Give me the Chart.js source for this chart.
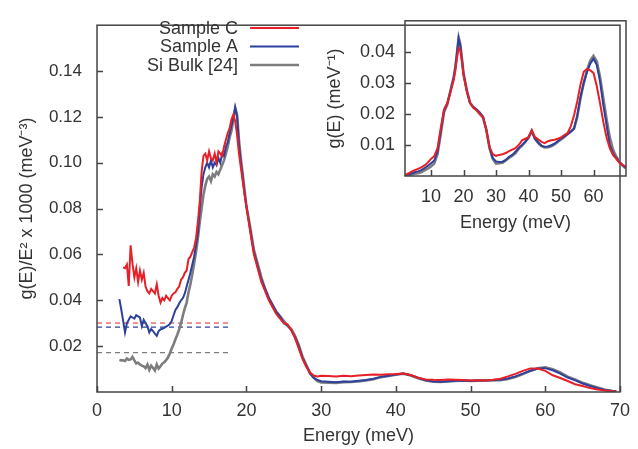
<!DOCTYPE html>
<html>
<head>
<meta charset="utf-8">
<script src="https://cdn.jsdelivr.net/npm/chart.js@4"></script>
<style>
  body { margin: 0; background: #fff; }
  #wrap { position: relative; width: 638px; height: 449px; }
  #mainChart { position: absolute; left: 0; top: 0; }
  #insetChart { position: absolute; left: 320px; top: 0; }
</style>
</head>
<body>
<div id="wrap">
  <canvas id="mainChart" width="638" height="449"></canvas>
  <canvas id="insetChart" width="318" height="240"></canvas>
</div>
<script>
// main panel: g(E)/E^2 x 1000
const energy = [
  3, 3.25, 3.5, 3.75, 4, 4.25, 4.5, 4.75, 5, 5.25, 5.5, 5.75, 6, 6.25, 6.5, 6.75, 7, 7.25, 7.5, 7.75,
  8, 8.25, 8.5, 8.75, 9, 9.25, 9.5, 9.75, 10, 10.25, 10.5, 10.75, 11, 11.25, 11.5, 11.75, 12, 12.25, 12.5, 12.75,
  13, 13.25, 13.5, 13.75, 14, 14.25, 14.5, 14.75, 15, 15.25, 15.5, 15.75, 16, 16.25, 16.5, 16.75, 17, 17.25, 17.5, 17.75,
  18, 18.25, 18.5, 18.75, 19, 19.25, 19.5, 19.75, 20,
  20.5, 21, 21.5, 22, 22.5, 23, 23.5, 24, 24.5, 25, 25.5, 26, 26.5, 27, 27.5, 28, 28.5, 29, 29.5, 30,
  31, 32, 33, 34, 35, 36, 37, 38, 39, 40, 41, 42, 43, 44, 45, 46, 47, 48, 49, 50,
  51, 52, 53, 54, 55, 56, 57, 58, 59, 60, 61, 62, 63, 64, 65, 66, 67, 68, 69, 69.5
];
const sampleC = [
  null, null, 0.0544, 0.054, 0.0556, 0.0463, 0.064, 0.056, 0.050, 0.054, 0.048, 0.053, 0.049, 0.052, 0.046, 0.044, 0.043, 0.045, 0.044, 0.043,
  0.047, 0.042, 0.039, 0.041, 0.040, 0.042, 0.041, 0.040, 0.042, 0.043, 0.0435, 0.045, 0.046, 0.049, 0.050, 0.052, 0.053, 0.058, 0.059, 0.061,
  0.063, 0.067, 0.074, 0.083, 0.096, 0.103, 0.104, 0.101, 0.105, 0.102, 0.101, 0.104, 0.100, 0.105, 0.104, 0.103, 0.107, 0.110, 0.113, 0.115,
  0.119, 0.121, 0.118, 0.112, 0.104, 0.098, 0.092, 0.086, 0.081,
  0.070, 0.060, 0.054, 0.048, 0.044, 0.040, 0.037, 0.034, 0.032, 0.030, 0.0295, 0.027, 0.0235, 0.019, 0.0145, 0.011, 0.0085, 0.0072, 0.0068, 0.0071,
  0.0070, 0.0068, 0.0071, 0.0069, 0.0072, 0.0074, 0.0076, 0.0075, 0.0077, 0.0078, 0.0081, 0.0074, 0.0062, 0.0055, 0.0053, 0.0052, 0.0054, 0.0053, 0.0052, 0.0050,
  0.0051, 0.0050, 0.0053, 0.0058, 0.0068, 0.0079, 0.0092, 0.0103, 0.0102, 0.0092, 0.0073, 0.0061, 0.0048, 0.0034, 0.0026, 0.0017, 0.0011, 0.0007, 0.0003, 0.0001
];
const sampleA = [
  0.0405, 0.036, 0.031, 0.026, 0.030, 0.0315, 0.033, 0.0325, 0.032, 0.0335, 0.033, 0.0325, 0.0287, 0.0315, 0.030, 0.0287, 0.026, 0.0275, 0.0266, 0.0255,
  0.0245, 0.0266, 0.0273, 0.0276, 0.028, 0.0285, 0.029, 0.0296, 0.031, 0.0335, 0.0358, 0.037, 0.0386, 0.040, 0.041, 0.043, 0.046, 0.049, 0.052, 0.0555,
  0.059, 0.064, 0.069, 0.080, 0.089, 0.095, 0.098, 0.100, 0.098, 0.101, 0.098, 0.100, 0.099, 0.102, 0.100, 0.104, 0.103, 0.107, 0.109, 0.113,
  0.116, 0.120, 0.124, 0.120, 0.108, 0.100, 0.094, 0.087, 0.081,
  0.071, 0.061, 0.055, 0.049, 0.045, 0.041, 0.038, 0.035, 0.033, 0.030, 0.029, 0.027, 0.024, 0.020, 0.015, 0.0115, 0.008, 0.0062, 0.0052, 0.0047,
  0.0045, 0.0043, 0.0046, 0.0045, 0.0049, 0.0052, 0.0058, 0.0066, 0.0071, 0.0076, 0.0081, 0.0073, 0.0061, 0.0051, 0.0046, 0.0045, 0.0047, 0.0049, 0.0050, 0.0049,
  0.0050, 0.0050, 0.0051, 0.0053, 0.0059, 0.0068, 0.0080, 0.0093, 0.0102, 0.0104, 0.0095, 0.0080, 0.0063, 0.0051, 0.0037, 0.0026, 0.0017, 0.0009, 0.0004, 0.0002
];
const siBulk = [
  0.014, 0.0138, 0.0138, 0.0135, 0.0146, 0.014, 0.0142, 0.0153, 0.0138, 0.0125, 0.0128, 0.012, 0.0115, 0.0112, 0.0104, 0.012, 0.0097, 0.0115, 0.0105, 0.0094,
  0.012, 0.0102, 0.0112, 0.0124, 0.013, 0.0139, 0.015, 0.0168, 0.019, 0.0208, 0.023, 0.025, 0.0273, 0.030, 0.0335, 0.0365, 0.039, 0.0435, 0.047, 0.0513,
  0.056, 0.061, 0.067, 0.074, 0.080, 0.086, 0.090, 0.093, 0.094, 0.092, 0.095, 0.094, 0.096, 0.095, 0.097, 0.099, 0.101, 0.104, 0.107, 0.111,
  0.114, 0.119, 0.124, 0.121, 0.110, 0.102, 0.095, 0.088, 0.081,
  0.072, 0.062, 0.056, 0.050, 0.045, 0.041, 0.038, 0.035, 0.033, 0.031, 0.029, 0.0275, 0.0245, 0.0205, 0.0155, 0.012, 0.0085, 0.0063, 0.0048, 0.0042,
  0.0041, 0.0040, 0.0043, 0.0044, 0.0046, 0.0050, 0.0056, 0.0065, 0.0070, 0.0075, 0.0080, 0.0072, 0.0060, 0.0050, 0.0045, 0.0044, 0.0046, 0.0048, 0.0050, 0.0048,
  0.0049, 0.0050, 0.0051, 0.0052, 0.0057, 0.0065, 0.0078, 0.0092, 0.0104, 0.0108, 0.0099, 0.0085, 0.0067, 0.0055, 0.0040, 0.0029, 0.0020, 0.0010, 0.0004, 0.0002
];
// dashed low-energy reference levels (C, A, bulk)
const dashLevels = [0.0301, 0.0283, 0.0172];
const dashRange = [0, 18];

const xTicksMain = [0, 10, 20, 30, 40, 50, 60, 70];
const yTicksMain = [0.02, 0.04, 0.06, 0.08, 0.10, 0.12, 0.14];

// inset: g(E)
const insetEnergy = [
  2, 3, 4, 5, 6, 7, 8, 9, 10, 11, 12, 13, 14, 15, 16, 17, 17.5, 18, 18.5, 19, 19.5, 20,
  21, 22, 23, 24, 25, 26, 27, 28, 29, 30, 31, 32, 33, 34, 35, 36, 37, 38, 39, 40,
  41, 42, 43, 44, 45, 46, 47, 48, 49, 50, 51, 52, 53, 54, 55, 56, 57, 58, 59, 60,
  61, 62, 63, 64, 65, 66, 67, 68, 69, 70
];
const insetC = [
  0.0003, 0.0008, 0.0014, 0.0019, 0.0023, 0.0028, 0.0034, 0.0043, 0.0055, 0.0064, 0.0090, 0.0155, 0.0215, 0.0235, 0.0270, 0.0310, 0.0340, 0.0380, 0.0412, 0.0405, 0.0370, 0.0325,
  0.0272, 0.0235, 0.0220, 0.0212, 0.0200, 0.0190, 0.0150, 0.0095, 0.0070, 0.0065, 0.0068, 0.0070, 0.0074, 0.0080, 0.0085, 0.0090, 0.0100, 0.0115, 0.0120, 0.0125,
  0.0148, 0.0125, 0.0118, 0.0110, 0.0106, 0.0112, 0.0115, 0.0117, 0.0120, 0.0124, 0.0132, 0.0138, 0.0160, 0.0195, 0.0240, 0.0295, 0.0336, 0.0345, 0.0340, 0.0332,
  0.0290, 0.0235, 0.0175, 0.0125, 0.0090, 0.0068, 0.0055, 0.0042, 0.0035, 0.0030
];
const insetA = [
  0.0002, 0.0005, 0.0008, 0.0012, 0.0015, 0.0019, 0.0025, 0.0033, 0.0041, 0.0050, 0.0078, 0.0145, 0.0210, 0.0233, 0.0275, 0.0318, 0.0350, 0.0395, 0.0443, 0.0420, 0.0378, 0.0330,
  0.0275, 0.0235, 0.0222, 0.0215, 0.0205, 0.0192, 0.0150, 0.0092, 0.0058, 0.0047, 0.0045, 0.0046, 0.0052, 0.0062, 0.0068, 0.0078, 0.0090, 0.0100, 0.0110, 0.0125,
  0.0145, 0.0120, 0.0108, 0.0098, 0.0094, 0.0095, 0.0099, 0.0104, 0.0112, 0.0120, 0.0127, 0.0135, 0.0143, 0.0152, 0.0195, 0.0255, 0.0300, 0.0335, 0.0362, 0.0378,
  0.0358, 0.0305, 0.0230, 0.0165, 0.0100, 0.0072, 0.0058, 0.0045, 0.0035, 0.0028
];
const insetBulk = [
  0.0001, 0.0003, 0.0005, 0.0007, 0.0009, 0.0012, 0.0018, 0.0024, 0.0031, 0.0040, 0.0070, 0.0135, 0.0205, 0.0230, 0.0275, 0.0320, 0.0352, 0.0398, 0.0446, 0.0425, 0.0380, 0.0332,
  0.0278, 0.0237, 0.0222, 0.0213, 0.0200, 0.0188, 0.0150, 0.0090, 0.0055, 0.0040, 0.0041, 0.0043, 0.0050, 0.0058, 0.0065, 0.0074, 0.0088, 0.0098, 0.0110, 0.0122,
  0.0145, 0.0120, 0.0106, 0.0096, 0.0092, 0.0093, 0.0096, 0.0102, 0.0110, 0.0118, 0.0126, 0.0135, 0.0143, 0.0152, 0.0190, 0.0250, 0.0300, 0.0340, 0.0372, 0.0387,
  0.0370, 0.0320, 0.0252, 0.0185, 0.0125, 0.0085, 0.0062, 0.0046, 0.0033, 0.0024
];
const xTicksInset = [10, 20, 30, 40, 50, 60];
const yTicksInset = [0.01, 0.02, 0.03, 0.04];

const seriesNames = ['Sample C', 'Sample A', 'Si Bulk [24]'];
const seriesColors = ['#e81f27', '#2c419e', '#7d7d7d'];
const seriesWidths = [2, 2, 2.6];

const FONT = '"Liberation Sans", Arial, Helvetica, sans-serif';
const textColor = '#333';
const axisColor = '#444';

const pts = (xs, ys) => xs.map((x, i) => ({ x: x, y: ys[i] }));

// box round the plot + inward tick marks
const framePlugin = {
  id: 'frame',
  afterDraw(chart) {
    const { ctx, chartArea: a, scales: { x, y } } = chart;
    ctx.save();
    ctx.strokeStyle = axisColor;
    ctx.lineWidth = 1.5;
    ctx.strokeRect(a.left, a.top, a.right - a.left, a.bottom - a.top);
    ctx.beginPath();
    x.ticks.forEach(t => {
      const px = Math.round(x.getPixelForValue(t.value)) + 0.5;
      ctx.moveTo(px, a.bottom);
      ctx.lineTo(px, a.bottom - 6);
    });
    y.ticks.forEach(t => {
      const py = Math.round(y.getPixelForValue(t.value)) + 0.5;
      ctx.moveTo(a.left, py);
      ctx.lineTo(a.left + 6, py);
    });
    ctx.stroke();
    ctx.restore();
  }
};

// gnuplot style key: right aligned text, sample line on the right
const keyPlugin = {
  id: 'key',
  afterDraw(chart) {
    const ctx = chart.ctx;
    ctx.save();
    ctx.font = '18px ' + FONT;
    ctx.textAlign = 'right';
    ctx.textBaseline = 'middle';
    seriesNames.forEach((name, i) => {
      const yy = 28 + i * 18.5;
      ctx.fillStyle = textColor;
      ctx.fillText(name, 238, yy + 1);
      ctx.strokeStyle = seriesColors[i];
      ctx.lineWidth = seriesWidths[i];
      ctx.beginPath();
      ctx.moveTo(250, yy);
      ctx.lineTo(299, yy);
      ctx.stroke();
    });
    ctx.restore();
  }
};

function axis(opts) {
  return {
    type: 'linear',
    min: opts.min,
    max: opts.max,
    grid: { display: false, drawTicks: false },
    border: { display: false },
    afterBuildTicks: s => { s.ticks = opts.ticks.map(v => ({ value: v })); },
    afterFit: opts.fit,
    ticks: {
      color: textColor,
      padding: opts.pad,
      font: { family: FONT, size: opts.size },
      callback: opts.fmt
    },
    title: {
      display: true,
      text: opts.title,
      color: textColor,
      font: { family: FONT, size: 18 },
      padding: opts.titlePad
    }
  };
}

const mainDatasets = [];
dashLevels.forEach((lvl, i) => {
  mainDatasets.push({
    data: dashRange.map(e => ({ x: e, y: lvl })),
    borderColor: seriesColors[i],
    borderWidth: 1.2,
    borderDash: [5, 4],
    order: 5
  });
});
[sampleC, sampleA, siBulk].forEach((vals, i) => {
  mainDatasets.push({
    label: seriesNames[i],
    data: pts(energy, vals),
    borderColor: seriesColors[i],
    borderWidth: seriesWidths[i],
    order: i
  });
});

new Chart(document.getElementById('mainChart'), {
  type: 'line',
  data: { datasets: mainDatasets },
  options: {
    responsive: false,
    animation: false,
    events: [],
    layout: { padding: { left: 0, right: 12, top: 13, bottom: 0 } },
    elements: { point: { radius: 0 }, line: { tension: 0, spanGaps: false } },
    plugins: { legend: { display: false }, tooltip: { enabled: false } },
    scales: {
      x: axis({ min: 0, max: 70, ticks: xTicksMain, pad: 8, size: 18, fmt: v => v,
        title: 'Energy (meV)', titlePad: { top: 0, bottom: 2 }, fit: s => { s.height = 57; } }),
      y: axis({ min: 0, max: 0.16, ticks: yTicksMain, pad: 15, size: 17, fmt: v => v.toFixed(2),
        title: 'g(E)/E\u00B2 x 1000 (meV\u207B\u00B3)', titlePad: { top: 16, bottom: 0 }, fit: s => { s.width = 97; } })
    }
  },
  plugins: [framePlugin, keyPlugin]
});

new Chart(document.getElementById('insetChart'), {
  type: 'line',
  data: {
    datasets: [insetC, insetA, insetBulk].map((vals, i) => ({
      label: seriesNames[i],
      data: pts(insetEnergy, vals),
      borderColor: seriesColors[i],
      borderWidth: seriesWidths[i],
      order: i
    }))
  },
  options: {
    responsive: false,
    animation: false,
    events: [],
    layout: { padding: { left: 0, right: 12, top: 13, bottom: 0 } },
    elements: { point: { radius: 0 }, line: { tension: 0 } },
    plugins: { legend: { display: false }, tooltip: { enabled: false } },
    scales: {
      x: axis({ min: 2, max: 70, ticks: xTicksInset, pad: 10, size: 18, fmt: v => v,
        title: 'Energy (meV)', titlePad: { top: 0, bottom: 6 }, fit: s => { s.height = 64; } }),
      y: axis({ min: 0, max: 0.05, ticks: yTicksInset, pad: 10, size: 18, fmt: v => v.toFixed(2),
        title: 'g(E) (meV\u207B\u00B9)', titlePad: { top: 4, bottom: 0 }, fit: s => { s.width = 85; } })
    }
  },
  plugins: [framePlugin]
});
</script>
</body>
</html>
